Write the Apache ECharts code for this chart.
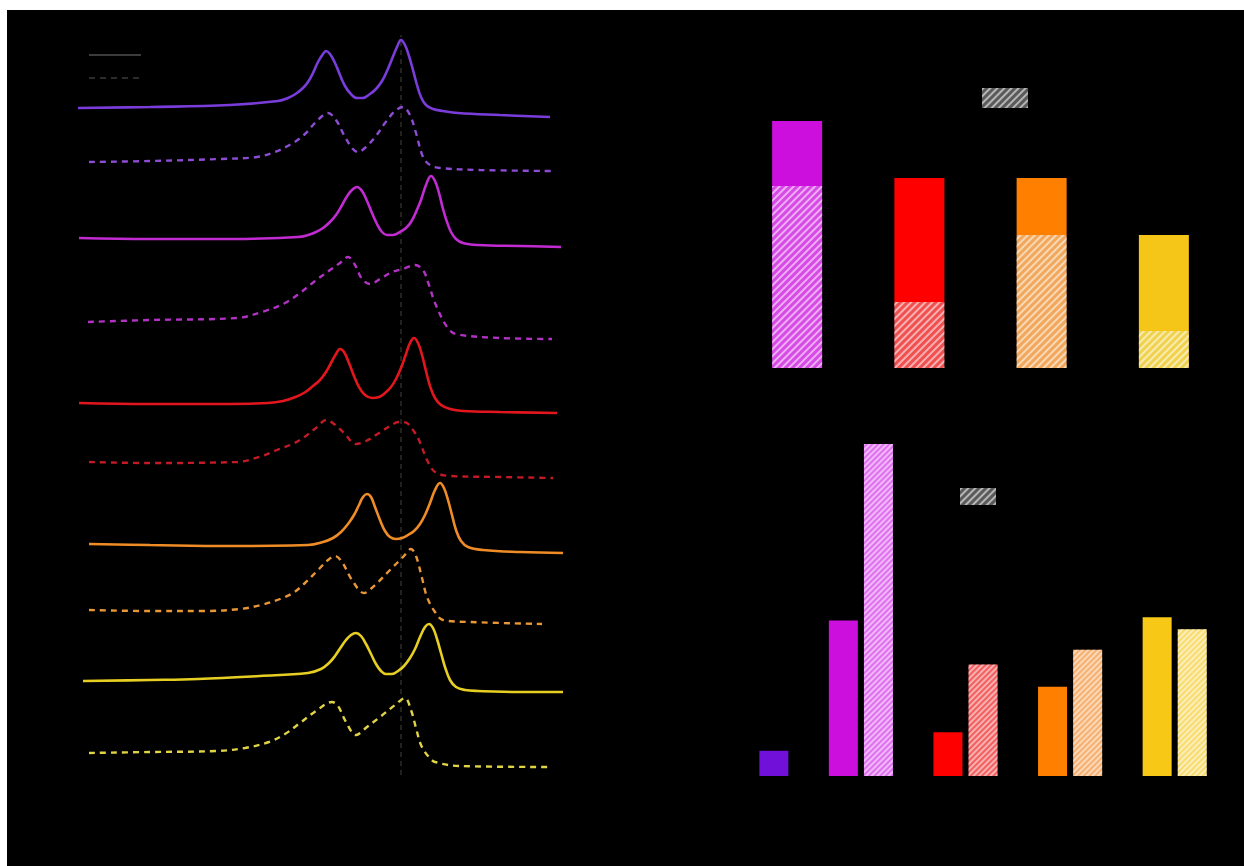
<!DOCTYPE html>
<html><head><meta charset="utf-8">
<script src="https://cdn.jsdelivr.net/npm/echarts@6/dist/echarts.min.js"></script>
<style>html,body{margin:0;padding:0;background:#fff;width:1244px;height:866px;overflow:hidden}
#c{position:absolute;left:7px;top:10px;width:1237px;height:856px}</style></head>
<body><div id="c"></div><script>
// ---- Left panel: offset spectra (x: arbitrary units, y: intensity + offset) ----
const purpleSolid = [[0,68.2],[14.4,68.3],[30.4,68.5],[40,68.9],[42,69.2],[43.5,69.6],[45,70.2],[46,70.8],[47,71.7],[48,72.8],[49,73.6],[49.6,73.9],[50.4,73.6],[51.4,72.7],[52.4,71.5],[53.4,70.4],[54.4,69.7],[55.8,69.2],[57,69.2],[58.4,69.6],[59.6,70.1],[60.8,70.9],[61.8,71.9],[62.8,73.1],[63.8,74.3],[64.6,75],[65.4,74.5],[66.2,73.4],[67,72],[67.8,70.5],[68.6,69.3],[69.6,68.5],[71,68.1],[73,67.9],[76,67.7],[84.4,67.5],[94.4,67.3]];
const purpleDashed = [[2.2,62.8],[14.4,62.9],[28.4,63.1],[35.8,63.3],[39.4,63.8],[43,64.7],[45.4,65.6],[47.6,66.8],[50,67.7],[51.6,67],[53.2,65.5],[54.8,64.2],[56,63.8],[57.6,64.3],[59.6,65.4],[61.4,66.7],[63.4,67.9],[65,68.3],[66.4,67.5],[67.6,65.7],[69,63.3],[70.4,62.5],[72.4,62.2],[80.4,62],[94.8,61.9]];
const magentaSolid = [[0.2,55.2],[14.4,55.1],[30.4,55.1],[44,55.3],[46,55.5],[47.6,55.8],[49,56.2],[50.4,56.8],[51.6,57.5],[52.6,58.3],[53.6,59.2],[54.6,59.9],[55.8,60.3],[56.8,59.9],[57.8,58.9],[58.8,57.7],[59.8,56.6],[60.8,55.8],[61.8,55.5],[63,55.5],[64.4,55.8],[65.6,56.2],[66.6,56.8],[67.6,57.8],[68.6,59],[69.6,60.5],[70.6,61.4],[71.4,60.9],[72.2,59.7],[73,58.1],[73.8,56.8],[74.6,55.8],[75.6,55.1],[77,54.7],[80,54.5],[88.4,54.4],[96.6,54.3]];
const magentaDashed = [[2,46.8],[14.4,47],[31.8,47.2],[36.8,47.8],[41.4,48.7],[44.4,49.7],[47.4,50.9],[50.4,52],[52.4,52.7],[54,53.3],[55.4,52.5],[56.8,51.1],[58.4,50.6],[60.4,51.1],[62.8,51.8],[65,52.1],[67.4,52.5],[69,52],[70.2,50.5],[71.4,48.7],[73.8,46.3],[75.6,45.6],[84.4,45.2],[94.8,45.1]];
const redSolid = [[0.2,38.7],[14.4,38.6],[30.4,38.6],[38,38.7],[41,38.9],[43.5,39.3],[45.5,39.8],[47,40.4],[48.4,41],[49.6,41.8],[50.6,42.7],[51.6,43.6],[52.4,44.1],[53.2,43.8],[54.2,42.7],[55.2,41.4],[56.2,40.3],[57.4,39.5],[58.8,39.2],[60.2,39.3],[61.4,39.7],[62.6,40.3],[63.6,41.1],[64.6,42.2],[65.6,43.6],[66.4,44.7],[67.2,45.2],[68,44.7],[68.8,43.5],[69.6,41.9],[70.4,40.4],[71.4,39.2],[72.6,38.5],[74.4,38.1],[77,37.9],[84.4,37.8],[95.8,37.7]];
const redDashed = [[2.2,32.8],[14.4,32.7],[31.8,32.8],[36.8,33.4],[39.8,34],[42.4,34.5],[44.4,35],[47.6,36.2],[49.6,37],[51.2,36.6],[53.2,35.7],[55.6,34.6],[57.6,34.9],[60.2,35.7],[63.4,36.7],[64.6,36.8],[65.8,36.7],[67,36],[68.2,35],[69.8,33],[71.4,31.8],[74.4,31.4],[84.4,31.3],[95,31.2]];
const orangeSolid = [[2.2,24.6],[14.4,24.5],[30.4,24.4],[46,24.5],[49,24.8],[51,25.2],[52.6,25.8],[54,26.6],[55.2,27.5],[56.2,28.5],[57,29.3],[57.8,29.6],[58.6,29.3],[59.4,28.3],[60.4,27],[61.4,25.9],[62.4,25.3],[63.6,25.1],[64.8,25.2],[66,25.5],[67.2,25.9],[68.4,26.6],[69.4,27.5],[70.4,28.7],[71.4,30],[72.4,30.7],[73.2,30.2],[74,29],[74.8,27.5],[75.6,26],[76.6,24.9],[78,24.3],[81,24],[88.4,23.8],[97,23.7]];
const orangeDashed = [[2.2,18],[14.4,17.9],[25.6,17.9],[32.4,18.1],[36.6,18.5],[40.4,19.1],[43,19.7],[45.4,20.7],[48,22],[50,23],[51.4,23.4],[52.8,22.8],[54.8,21],[57.2,19.7],[59.4,20.5],[62.4,22],[65,23.3],[66.6,24.1],[67.6,23.4],[68.8,21.2],[69.8,19.3],[71.4,17.8],[73,17],[78.4,16.8],[92.8,16.6]];
const yellowSolid = [[1,10.9],[14.4,11],[24,11.1],[36.4,11.4],[46,11.7],[48.6,12.1],[50.2,12.7],[51.4,13.4],[52.6,14.3],[53.6,15],[54.6,15.5],[55.6,15.7],[56.6,15.4],[57.6,14.6],[58.6,13.6],[59.6,12.6],[60.6,11.9],[61.6,11.6],[62.8,11.6],[64,11.9],[65.2,12.4],[66.4,13.2],[67.4,14.1],[68.4,15.3],[69.4,16.3],[70.2,16.6],[71,16.2],[71.8,15.1],[72.6,13.7],[73.4,12.3],[74.4,11],[75.6,10.3],[77.4,10],[80,9.9],[88.4,9.8],[97,9.8]];
const yellowDashed = [[2.2,3.7],[14.4,3.8],[27.8,3.9],[33.4,4.2],[38.2,4.8],[41.4,5.6],[44.4,6.7],[47.6,7.9],[50.8,8.8],[52,8.4],[53.6,6.8],[55.6,5.5],[57.8,6.3],[60.4,7.3],[63.4,8.5],[65.4,9.2],[66.6,8],[67.6,6.2],[68.6,4.5],[70,3.4],[71.4,2.8],[76.4,2.4],[94.8,2.3]];
const refLineX = 64.6;
const refLineSpan = [1.5, 75.5];

// ---- Top-right panel: stacked bars ----
const stackCategories = ['S1', 'S2', 'S3', 'S4'];
const stackHatched = [72.8, 26.4, 53.2, 14.8];
const stackSolid = [26, 49.6, 22.8, 38.4];

// ---- Bottom-right panel: grouped bars ----
const groupCategories = ['S0', 'S1', 'S2', 'S3', 'S4'];
const groupSolid = [null, 46.8, 13.2, 26.9, 47.8];
const groupHatched = [7.6, 100, 33.6, 38, 44.2];

// ---- styling ----
const lineColors = ['#7a3ddc', '#c22bd2', '#e3161e', '#f08c26', '#e6cf22'];
const dashColors = ['#8e4bd4', '#b232c4', '#c41a26', '#e89636', '#e0d446'];
const solidBarTop = ['#cc0fdd', '#ff0000', '#ff8000', '#f5c518'];
const hatchBarTop = ['#d84ae6', '#f05050', '#f2a85c', '#f0d24e'];
const solidBarBot = ['#7010d8', '#cc0fdd', '#ff0000', '#ff8000', '#f7c815'];
const hatchBarBot = ['#e070f0', '#f26060', '#f6b070', '#f8dc70'];

function stripes(color, w, gap) {
  return { symbol: 'rect', symbolSize: 1, dashArrayX: [1, 0], dashArrayY: [w, gap], rotation: -Math.PI / 4, color: color };
}

const curves = [
  ['purple', purpleSolid, purpleDashed],
  ['magenta', magentaSolid, magentaDashed],
  ['red', redSolid, redDashed],
  ['orange', orangeSolid, orangeDashed],
  ['yellow', yellowSolid, yellowDashed]
];

const series = [];
curves.forEach((c, i) => {
  series.push({ type: 'line', name: c[0] + ' solid', xAxisIndex: 0, yAxisIndex: 0, data: c[1], showSymbol: false, smooth: 0.4,
    lineStyle: { color: lineColors[i], width: 2.6 }, itemStyle: { color: lineColors[i] }, silent: true });
  series.push({ type: 'line', name: c[0] + ' dashed', xAxisIndex: 0, yAxisIndex: 0, data: c[2], showSymbol: false, smooth: 0.35,
    lineStyle: { color: dashColors[i], width: 2.4, type: [6, 5] }, itemStyle: { color: dashColors[i] }, silent: true });
});
series.push({ type: 'line', name: 'ref', xAxisIndex: 0, yAxisIndex: 0, showSymbol: false,
  data: [[refLineX, refLineSpan[0]], [refLineX, refLineSpan[1]]],
  lineStyle: { color: '#3a3a30', width: 1.2, type: [5, 4] }, silent: true, z: 1 });
// legend-only series for line styles
series.push({ type: 'line', name: 'Solid', xAxisIndex: 0, yAxisIndex: 0, data: [], symbol: 'none', symbolSize: 0,
  lineStyle: { color: '#3c3c3c', width: 2.5 }, itemStyle: { color: '#3c3c3c' } });
series.push({ type: 'line', name: 'Dashed', xAxisIndex: 0, yAxisIndex: 0, data: [], symbol: 'none', symbolSize: 0,
  lineStyle: { color: '#2c2c2c', width: 2.5, type: [6, 5] }, itemStyle: { color: '#2c2c2c' } });

// top stacked bars
series.push({ type: 'bar', name: 'Hatched', xAxisIndex: 1, yAxisIndex: 1, stack: 'tot', barWidth: 50,
  itemStyle: { color: '#5a5a5a', decal: stripes('rgba(255,255,255,0.55)', 2, 3) },
  data: stackHatched.map((v, i) => ({ value: v, itemStyle: { color: hatchBarTop[i] } })) });
series.push({ type: 'bar', name: 'Filled', xAxisIndex: 1, yAxisIndex: 1, stack: 'tot', barWidth: 50,
  itemStyle: { color: '#000' },
  data: stackSolid.map((v, i) => ({ value: v, itemStyle: { color: solidBarTop[i] } })) });

// bottom grouped bars
series.push({ type: 'bar', name: 'Filled', xAxisIndex: 2, yAxisIndex: 2, barWidth: 29, barGap: '21%',
  itemStyle: { color: '#000' },
  data: groupSolid.map((v, i) => ({ value: v, itemStyle: { color: solidBarBot[i] } })) });
series.push({ type: 'bar', name: 'Hatched', xAxisIndex: 2, yAxisIndex: 2, barWidth: 29, barGap: '21%',
  itemStyle: { color: '#5a5a5a', decal: stripes('rgba(255,255,255,0.5)', 1.5, 2) },
  data: groupHatched.map((v, i) => i === 0
    ? { value: v, itemStyle: { color: solidBarBot[0], decal: stripes('rgba(0,0,0,0)', 1.5, 2) } }
    : { value: v, itemStyle: { color: hatchBarBot[i - 1] } }) });

const hiddenAxis = { show: false };
const option = {
  backgroundColor: '#000',
  animation: false,
  grid: [
    { left: 71, top: 20, width: 485, height: 760 },
    { left: 729, top: 108, width: 489, height: 250 },
    { left: 697, top: 434, width: 523, height: 332 }
  ],
  xAxis: [
    { type: 'value', gridIndex: 0, min: 0, max: 97, ...hiddenAxis },
    { type: 'category', gridIndex: 1, data: stackCategories, ...hiddenAxis },
    { type: 'category', gridIndex: 2, data: groupCategories, ...hiddenAxis }
  ],
  yAxis: [
    { type: 'value', gridIndex: 0, min: 0, max: 76, ...hiddenAxis },
    { type: 'value', gridIndex: 1, min: 0, max: 100, ...hiddenAxis },
    { type: 'value', gridIndex: 2, min: 0, max: 100, ...hiddenAxis }
  ],
  legend: [
    { data: ['Solid', 'Dashed'], orient: 'vertical', left: 81, top: 38, padding: 0, itemWidth: 52, itemHeight: 14, itemGap: 9,
      itemStyle: { opacity: 0 }, textStyle: { color: '#000', fontSize: 14 }, selectedMode: false },
    { data: ['Hatched'], icon: 'rect', left: 975, top: 78, padding: 0, itemWidth: 46, itemHeight: 20,
      textStyle: { color: '#000', fontSize: 14 }, selectedMode: false },
    { data: ['Hatched'], icon: 'rect', left: 953, top: 478, padding: 0, itemWidth: 36, itemHeight: 17,
      textStyle: { color: '#000', fontSize: 14 }, selectedMode: false }
  ],
  series: series
};
const chart = echarts.init(document.getElementById('c'), null, { renderer: 'canvas' });
chart.setOption(option);
</script></body></html>
